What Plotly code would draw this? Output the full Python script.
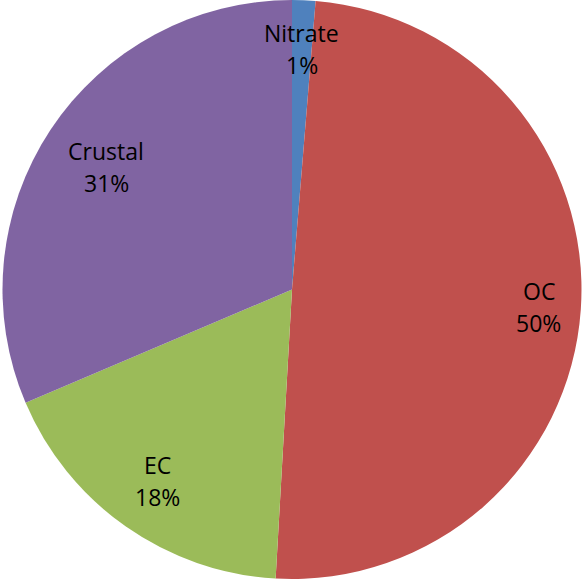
import math
import plotly.graph_objects as go

labels = ["Nitrate", "OC", "EC", "Crustal"]
values = [1.3, 49.6, 17.7, 31.4]
colors = ["#4F81BD", "#C0504D", "#9BBB59", "#8064A2"]
label_radius = [0.83, 0.855, 0.81, 0.77]

W, H = 584, 579
fig = go.Figure(go.Pie(
    labels=labels, values=values, sort=False, direction="clockwise", rotation=0,
    marker=dict(colors=colors, line=dict(width=0)), textinfo="none",
    hoverinfo="label+percent", showlegend=False,
))

R = min(W, H) / 2
total = sum(values)
cum = 0
ann = []
for lab, v, rf in zip(labels, values, label_radius):
    mid = (cum + v / 2) / total * 2 * math.pi
    cum += v
    dx = math.sin(mid) * R * rf
    dy = math.cos(mid) * R * rf
    x = 0.5 + dx / W
    y = 0.5 + dy / H
    pct = f"{round(v / total * 100)}%"
    for txt, sh in ((lab, 16), (pct, -16)):
        ann.append(dict(x=x, y=y, xref="paper", yref="paper", text=txt, showarrow=False,
                        xanchor="center", yanchor="middle", yshift=sh,
                        font=dict(family="Open Sans", size=23, color="#000000")))

fig.update_layout(width=W, height=H, margin=dict(l=0, r=0, t=0, b=0),
                  paper_bgcolor="white", plot_bgcolor="white", annotations=ann)
fig.write_html("out.html")
